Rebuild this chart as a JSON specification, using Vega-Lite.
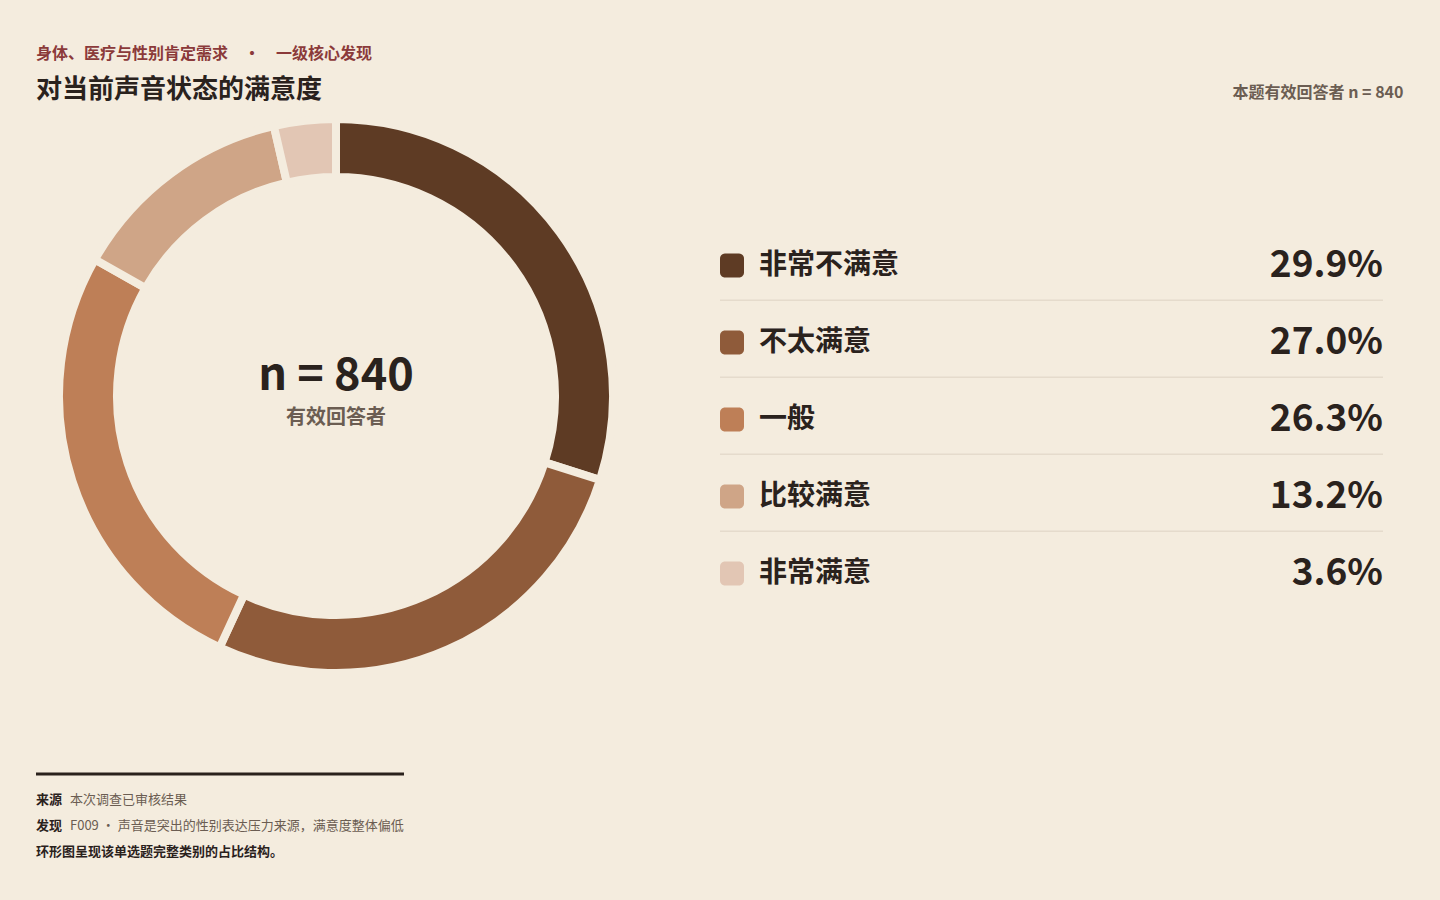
{
  "$schema": "https://vega.github.io/schema/vega-lite/v6.json",
  "background": "#F4ECDE",
  "padding": {"left": 34, "top": 46, "right": 37, "bottom": 53},
  "config": {
    "view": {"stroke": null},
    "font": "Noto Sans CJK SC",
    "title": {"font": "Noto Sans CJK SC", "subtitleFont": "Noto Sans CJK SC"}
  },
  "datasets": {
    "resp": [
      {"label": "非常不满意", "pct": 29.9, "pctText": "29.9%", "order": 1},
      {"label": "不太满意", "pct": 27.0, "pctText": "27.0%", "order": 2},
      {"label": "一般", "pct": 26.3, "pctText": "26.3%", "order": 3},
      {"label": "比较满意", "pct": 13.2, "pctText": "13.2%", "order": 4},
      {"label": "非常满意", "pct": 3.6, "pctText": "3.6%", "order": 5}
    ],
    "foot": [
      {"line": 0, "key": "", "body": ""},
      {"line": 1, "key": "来源", "body": "本次调查已审核结果"},
      {"line": 2, "key": "发现", "body": "F009 · 声音是突出的性别表达压力来源，满意度整体偏低"},
      {"line": 3, "key": "环形图呈现该单选题完整类别的占比结构。", "body": ""}
    ],
    "center": [{"big": "n = 840", "small": "有效回答者"}]
  },
  "spacing": 83,
  "vconcat": [
    {
      "bounds": "flush",
      "spacing": 84,
      "hconcat": [
        {
          "width": 600,
          "height": 564,
          "title": {
            "text": "身体、医疗与性别肯定需求　•　一级核心发现",
            "subtitle": "对当前声音状态的满意度",
            "anchor": "start",
            "frame": "bounds",
            "orient": "top",
            "offset": 0,
            "fontSize": 16,
            "fontWeight": "bold",
            "color": "#8B3A3A",
            "subtitleFontSize": 26,
            "subtitleFontWeight": "bold",
            "subtitleColor": "#2A221D",
            "subtitlePadding": 15
          },
          "layer": [
            {
              "data": {"name": "resp"},
              "mark": {"type": "arc", "radius": 277, "radius2": 219, "stroke": "#F4ECDE", "strokeWidth": 8},
              "encoding": {
                "theta": {"field": "pct", "type": "quantitative", "stack": true},
                "order": {"field": "order", "type": "quantitative"},
                "color": {
                  "field": "label",
                  "type": "nominal",
                  "scale": {
                    "domain": ["非常不满意", "不太满意", "一般", "比较满意", "非常满意"],
                    "range": ["#5E3B24", "#8F5B3A", "#BE7F57", "#CFA587", "#E2C6B4"]
                  },
                  "legend": null
                }
              }
            },
            {
              "data": {"name": "center"},
              "mark": {"type": "text", "fontSize": 45, "fontWeight": "bold", "color": "#2A221D", "baseline": "middle", "dy": -20},
              "encoding": {"text": {"field": "big"}}
            },
            {
              "data": {"name": "center"},
              "mark": {"type": "text", "fontSize": 20, "fontWeight": "bold", "color": "#6B5D52", "baseline": "middle", "dy": 22},
              "encoding": {"text": {"field": "small"}}
            }
          ]
        },
        {
          "width": 663,
          "height": 564,
          "data": {"name": "resp"},
          "title": {
            "text": "本题有效回答者 n = 840",
            "anchor": "end",
            "orient": "top",
            "frame": "bounds",
            "dx": 20,
            "offset": 13,
            "fontSize": 16,
            "fontWeight": "bold",
            "color": "#6B5D52"
          },
          "encoding": {
            "y": {
              "field": "label",
              "type": "nominal",
              "scale": {
                "domain": ["非常不满意", "不太满意", "一般", "比较满意", "非常满意"],
                "range": [113, 498],
                "paddingInner": 0,
                "paddingOuter": 0
              },
              "axis": null
            }
          },
          "layer": [
            {
              "transform": [{"filter": "datum.order < 5"}],
              "mark": {"type": "rule", "color": "#DDD2C3", "strokeWidth": 1},
              "encoding": {
                "y": {
                  "field": "label",
                  "type": "nominal",
                  "bandPosition": 0.95,
                  "scale": {
                    "domain": ["非常不满意", "不太满意", "一般", "比较满意", "非常满意"],
                    "range": [113, 498],
                    "paddingInner": 0,
                    "paddingOuter": 0
                  },
                  "axis": null
                },
                "x": {"value": 0},
                "x2": {"value": "width"}
              }
            },
            {
              "mark": {"type": "rect", "height": 24, "cornerRadius": 5},
              "encoding": {
                "x": {"value": 0},
                "x2": {"value": 24},
                "color": {
                  "field": "label",
                  "type": "nominal",
                  "scale": {
                    "domain": ["非常不满意", "不太满意", "一般", "比较满意", "非常满意"],
                    "range": ["#5E3B24", "#8F5B3A", "#BE7F57", "#CFA587", "#E2C6B4"]
                  },
                  "legend": null
                }
              }
            },
            {
              "mark": {"type": "text", "align": "left", "baseline": "middle", "fontSize": 28, "fontWeight": "bold", "color": "#2A221D", "dx": 39},
              "encoding": {"x": {"value": 0}, "text": {"field": "label"}}
            },
            {
              "mark": {"type": "text", "align": "right", "baseline": "middle", "fontSize": 37, "fontWeight": "bold", "color": "#2A221D"},
              "encoding": {"x": {"value": "width"}, "text": {"field": "pctText"}}
            }
          ]
        }
      ]
    },
    {
      "width": 368,
      "height": 78,
      "data": {"name": "foot"},
      "encoding": {
        "y": {
          "field": "line",
          "type": "ordinal",
          "scale": {"type": "point", "domain": [0, 1, 2, 3], "padding": 0},
          "axis": null
        }
      },
      "layer": [
        {
          "transform": [{"filter": "datum.line == 0"}],
          "mark": {"type": "rule", "color": "#2A211C", "strokeWidth": 3},
          "encoding": {"x": {"value": 0}, "x2": {"value": "width"}}
        },
        {
          "transform": [{"filter": "datum.line > 0"}],
          "mark": {"type": "text", "align": "left", "baseline": "middle", "fontSize": 13, "fontWeight": "bold", "color": "#2A211C"},
          "encoding": {"x": {"value": 0}, "text": {"field": "key"}}
        },
        {
          "transform": [{"filter": "datum.line > 0"}],
          "mark": {"type": "text", "align": "left", "baseline": "middle", "fontSize": 13, "color": "#6B5D52", "dx": 34},
          "encoding": {"x": {"value": 0}, "text": {"field": "body"}}
        }
      ]
    }
  ]
}
